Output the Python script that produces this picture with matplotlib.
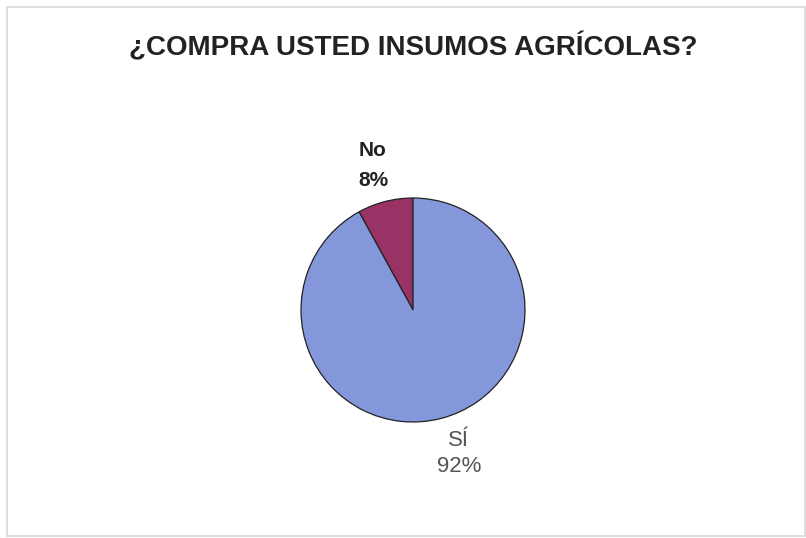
import matplotlib
matplotlib.use("Agg")
import matplotlib.pyplot as plt
from matplotlib.patches import Rectangle

categories = ["SÍ", "No"]
values = [92, 8]
colors = ["#8497DB", "#993366"]
title = "¿COMPRA USTED INSUMOS AGRÍCOLAS?"

W, H = 806, 538
fig = plt.figure(figsize=(W / 100, H / 100), dpi=100)
fig.patch.set_facecolor("white")
plt.rcParams['font.family'] = ['Liberation Sans', 'DejaVu Sans']

# border
fig.add_artist(Rectangle((7 / W, 2 / H), (W - 8) / W, (H - 9) / H, transform=fig.transFigure,
                         fill=False, edgecolor="#d8d8d8", linewidth=1.2))

cx, cy, r = 413, 310, 112
ax = fig.add_axes([(cx - r) / W, (H - cy - r) / H, 2 * r / W, 2 * r / H])
wedges, _ = ax.pie([values[1], values[0]], colors=[colors[1], colors[0]], startangle=90,
                   counterclock=True, radius=1,
                   wedgeprops=dict(edgecolor="#222222", linewidth=0.9))
ax.set_xlim(-1, 1)
ax.set_ylim(-1, 1)
ax.set_aspect("auto")
ax.axis("off")

fig.text(413 / W, 1 - 47 / H, title, ha="center", va="center", fontsize=20,
         fontweight="bold", color="#222222")

fig.text(373 / W, 1 - 150 / H, f"{categories[1]}", ha="center", va="center",
         fontsize=15, fontweight="bold", color="#222222")
fig.text(373 / W, 1 - 180 / H, f"{values[1]}%", ha="center", va="center",
         fontsize=15, fontweight="bold", color="#222222")
fig.text(459 / W, 1 - 440 / H, f"{categories[0]}", ha="center", va="center",
         fontsize=16, color="#555555")
fig.text(459 / W, 1 - 467 / H, f"{values[0]}%", ha="center", va="center",
         fontsize=16, color="#555555")

fig.savefig("out.png", dpi=100, facecolor="white")
